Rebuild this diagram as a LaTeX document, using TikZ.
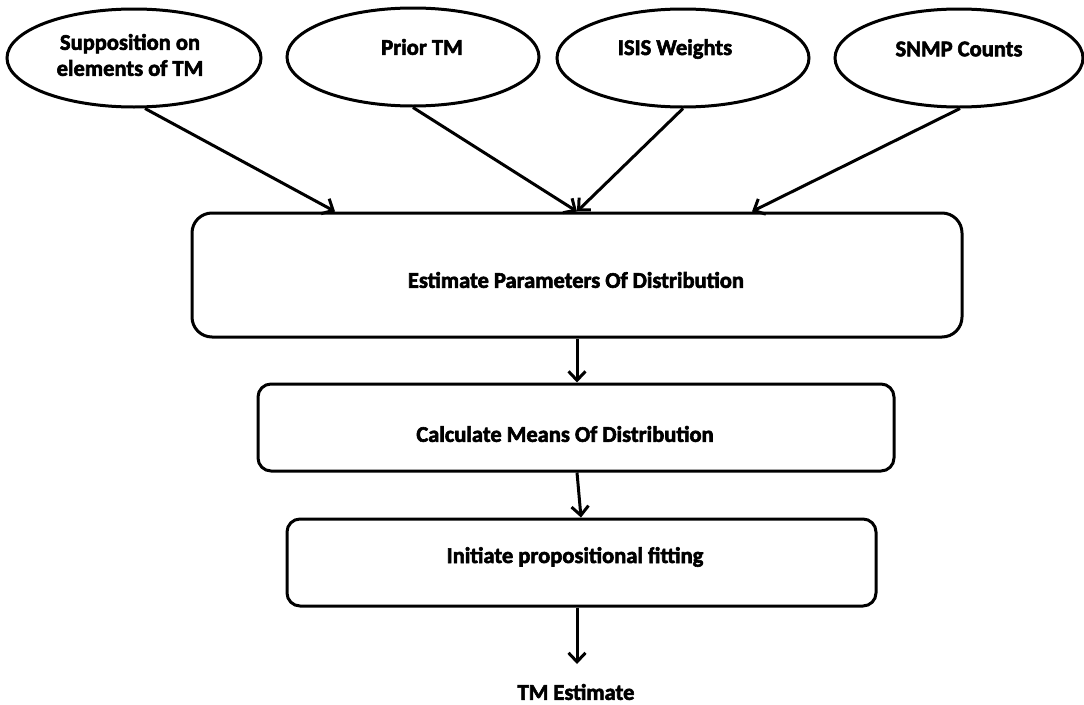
\documentclass[tikz,border=0pt]{standalone}
\usepackage{fontspec}
\setmainfont{Carlito}[BoldFeatures={FakeBold=2.6}]
\usetikzlibrary{shapes.geometric,arrows.meta}
\begin{document}
\begin{tikzpicture}[x=1pt,y=-1pt,
  oval/.style={ellipse,draw,line width=3pt,inner sep=0pt,
    minimum width=#1,minimum height=98pt},
  stepbox/.style={draw,line width=3pt,rounded corners=#1,inner sep=0pt},
  lbl/.style={font=\fontsize{22.5}{26}\selectfont\bfseries,inner sep=0pt,align=center},
  flow/.style={line width=3pt,-{Straight Barb[length=9pt,width=17pt,line width=3pt]}}]
\useasboundingbox (0,0) rectangle (1084,704);

% input ovals
\node[oval=254pt] (e1) at (134,58) {};
\node[oval=252pt] (e2) at (413,57) {};
\node[oval=252pt] (e3) at (683,58) {};
\node[oval=248pt] (e4) at (959,58) {};
\node[lbl] (t1) at (130,55) {Supposition on\\elements of TM};
\node[lbl] (t2) at (422,47) {Prior TM};
\node[lbl] (t3) at (675,49) {ISIS Weights};
\node[lbl] (t4) at (959,49) {SNMP Counts};

% processing steps
\node[stepbox=20pt,minimum width=770pt,minimum height=124pt] (b1) at (577,275) {};
\node[lbl] (s1) at (576,280) {Estimate Parameters Of Distribution};
\node[stepbox=13pt,minimum width=636pt,minimum height=87pt] (b2) at (576,427.5) {};
\node[lbl] (s2) at (565,434) {Calculate Means Of Distribution};
\node[stepbox=13pt,minimum width=589pt,minimum height=87pt] (b3) at (581.5,562.5) {};
\node[lbl] (s3) at (575,557) {Initiate propositional fitting};

% result
\node[lbl] (out) at (576,692) {TM Estimate};
\coordinate (outtop) at (577,664);

% connectors
\draw[flow] ([xshift=11pt]e1.south) -- ([xshift=-242pt]b1.north);
\draw[flow] (e2.south) -- (b1.north);
\draw[flow] (e3.south) -- (b1.north);
\draw[flow] ([xshift=1pt]e4.south) -- ([xshift=175pt]b1.north);
\draw[flow] (b1.south) -- (b2.north -| b1.south);
\draw[flow] ([xshift=1pt]b2.south) -- ([xshift=-0.5pt]b3.north);
\draw[flow] ([xshift=-4.5pt]b3.south) -- (outtop);
\end{tikzpicture}
\end{document}
